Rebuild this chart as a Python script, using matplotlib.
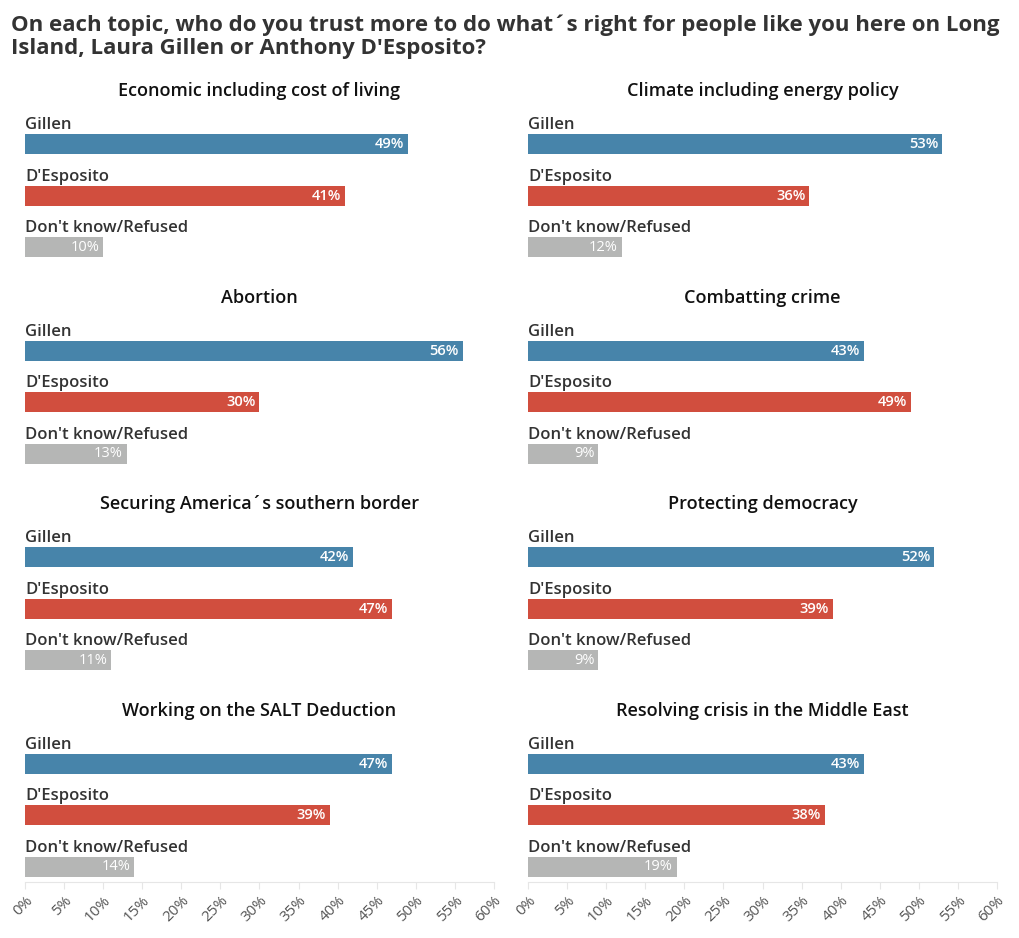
import matplotlib
matplotlib.use("Agg")
import matplotlib.pyplot as plt

plt.rcParams['font.family'] = ['Open Sans', 'DejaVu Sans']

topics = ["Economic including cost of living", "Climate including energy policy",
          "Abortion", "Combatting crime",
          "Securing America\u00b4s southern border", "Protecting democracy",
          "Working on the SALT Deduction", "Resolving crisis in the Middle East"]
categories = ["Gillen", "D'Esposito", "Don't know/Refused"]
gillen = [49, 53, 56, 43, 42, 52, 47, 43]
desposito = [41, 36, 30, 49, 47, 39, 39, 38]
dont_know = [10, 12, 13, 9, 11, 9, 14, 19]
ticks = list(range(0, 61, 5))

colors = ["#4784aa", "#d14e3e", "#b5b6b5"]
W, H = 1020, 938

fig = plt.figure(figsize=(W / 100, H / 100), dpi=100)
fig.text(11 / W, 1 - 14 / H,
         "On each topic, who do you trust more to do what\u00b4s right for people like you here on Long\n"
         "Island, Laura Gillen or Anthony D'Esposito?",
         ha='left', va='top', fontsize=16, fontweight='bold', color='#333333', linespacing=1.18)

for i, topic in enumerate(topics):
    row, col = divmod(i, 2)
    left = 25 if col == 0 else 528
    top = 108 + 206.5 * row
    ax = fig.add_axes([left / W, 1 - (top + 154) / H, 469 / W, 154 / H])
    vals = [gillen[i], desposito[i], dont_know[i]]
    ax.barh(range(3), vals, height=0.39, color=colors)
    for j, (cat, v) in enumerate(zip(categories, vals)):
        ax.text(0, j - 0.37, cat, ha='left', va='center', fontsize=12,
                fontweight='semibold', color='#333333')
        ax.text(v - 0.5, j, f"{v}%", ha='right', va='center', fontsize=10.5,
                color='white', fontweight='semibold' if j < 2 else 'normal')
    ax.set_xlim(0, 60)
    ax.set_ylim(2.29, -0.71)
    ax.set_yticks([])
    for s in ['top', 'right', 'left']:
        ax.spines[s].set_visible(False)
    fig.text((left + 234.5) / W, 1 - (91 + 206.5 * row) / H, topic, ha='center', va='center',
             fontsize=13, fontweight='semibold', color='#111111')
    if row == 3:
        ax.spines['bottom'].set_color('#e6e6e6')
        ax.set_xticks(ticks)
        ax.set_xticklabels([f"{t}%" for t in ticks], rotation=45, ha='right',
                           rotation_mode='anchor', fontsize=11, color='#555555')
        ax.tick_params(axis='x', color='#e6e6e6', length=5)
    else:
        ax.spines['bottom'].set_visible(False)
        ax.set_xticks([])

fig.savefig("out.png", dpi=100)
